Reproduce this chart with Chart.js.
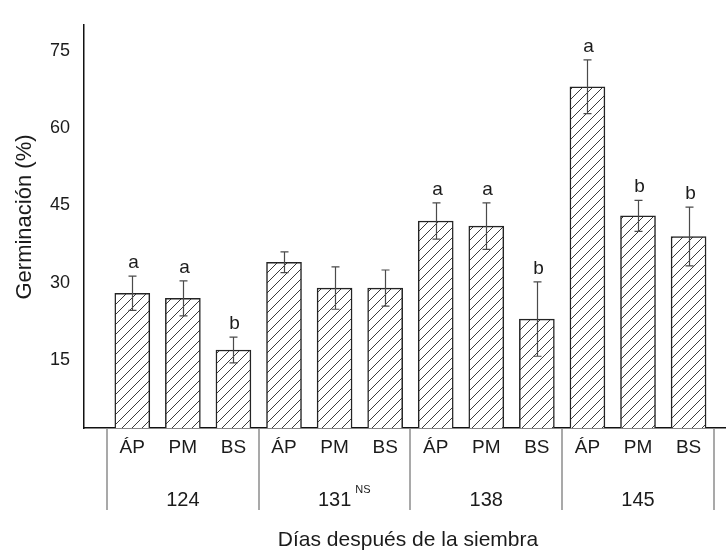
<!DOCTYPE html>
<html>
<head>
<meta charset="utf-8">
<script src="https://cdn.jsdelivr.net/npm/chart.js@4.4.1/dist/chart.umd.min.js"></script>
<style>
  html, body { margin: 0; padding: 0; background: #fff; }
  #wrap { width: 726px; height: 554px; }
</style>
</head>
<body>
<div id="wrap"><canvas id="c" width="726" height="554"></canvas></div>
<script>
// Sowing dates (days after sowing) and the three treatments measured on each
const days = ['124', '131', '138', '145'];
const dayNotes = ['', 'NS', '', ''];
const treatments = ['ÁP', 'PM', 'BS'];

// Mean germination (%) per bar, in order day × treatment
const germination = [28, 27, 17, 34, 29, 29, 42, 41, 23, 68, 43, 39];
// Standard error for each bar
const errors = [3.3, 3.4, 2.5, 2.0, 4.1, 3.5, 3.5, 4.5, 7.2, 5.2, 3.0, 5.7];
// Mean separation letters (empty where not significant)
const letters = ['a', 'a', 'b', '', '', '', 'a', 'a', 'b', 'a', 'b', 'b'];

const yTicks = [15, 30, 45, 60, 75];

const FONT = "'Liberation Sans', Arial, Helvetica, sans-serif";
const INK = '#1b1b1b';

function makeHatch() {
  const s = 10;
  const c = document.createElement('canvas');
  c.width = s; c.height = s;
  const g = c.getContext('2d');
  g.fillStyle = '#ffffff';
  g.fillRect(0, 0, s, s);
  g.strokeStyle = '#3a3a3a';
  g.lineWidth = 1;
  g.beginPath();
  g.moveTo(0, s); g.lineTo(s, 0);
  g.moveTo(-s / 2, s / 2); g.lineTo(s / 2, -s / 2);
  g.moveTo(s / 2, s * 1.5); g.lineTo(s * 1.5, s / 2);
  g.stroke();
  return g.createPattern(c, 'repeat');
}

// Error bars, letters, day groups and axis titles
const annotate = {
  id: 'annotate',
  afterDatasetsDraw(chart) {
    const { ctx, scales: { x, y } } = chart;
    ctx.save();

    ctx.strokeStyle = '#4a4a4a';
    ctx.lineWidth = 1.2;
    ctx.fillStyle = INK;
    ctx.font = `19px ${FONT}`;
    ctx.textAlign = 'center';
    ctx.textBaseline = 'alphabetic';
    germination.forEach((v, i) => {
      const px = Math.round(x.getPixelForValue(i)) + 0.5;
      const top = y.getPixelForValue(v + errors[i]);
      const bot = y.getPixelForValue(v - errors[i]);
      ctx.beginPath();
      ctx.moveTo(px, top); ctx.lineTo(px, bot);
      ctx.moveTo(px - 4, top); ctx.lineTo(px + 4, top);
      ctx.moveTo(px - 4, bot); ctx.lineTo(px + 4, bot);
      ctx.stroke();
      if (letters[i]) ctx.fillText(letters[i], px + 1, top - 8);
    });

    // group separators below the x axis
    const base = y.bottom;
    ctx.strokeStyle = '#8c8c8c';
    ctx.lineWidth = 1.5;
    for (let g = 0; g <= days.length; g++) {
      const px = Math.round(x.getPixelForValue(g * 3 - 0.5));
      ctx.beginPath();
      ctx.moveTo(px, base + 1);
      ctx.lineTo(px, base + 82);
      ctx.stroke();
    }

    // day labels
    ctx.fillStyle = INK;
    days.forEach((d, g) => {
      const cx = x.getPixelForValue(g * 3 + 1);
      ctx.font = `20px ${FONT}`;
      ctx.textAlign = 'center';
      ctx.fillText(d, cx, base + 78);
      if (dayNotes[g]) {
        const w = ctx.measureText(d).width;
        ctx.font = `11px ${FONT}`;
        ctx.textAlign = 'left';
        ctx.fillText(dayNotes[g], cx + w / 2 + 4, base + 65);
      }
    });

    // axis titles
    ctx.font = `21px ${FONT}`;
    ctx.textAlign = 'center';
    ctx.fillText('Días después de la siembra', (x.left + x.right) / 2 + 3, base + 118);

    ctx.save();
    ctx.translate(31, 217);
    ctx.rotate(-Math.PI / 2);
    ctx.font = `22px ${FONT}`;
    ctx.fillText('Germinación (%)', 0, 0);
    ctx.restore();

    ctx.restore();
  }
};

const ctx = document.getElementById('c').getContext('2d');
new Chart(ctx, {
  type: 'bar',
  data: {
    datasets: [{
      data: germination.map((v, i) => ({ x: i, y: v })),
      backgroundColor: makeHatch(),
      borderColor: '#242424',
      borderWidth: 1.5,
      borderSkipped: false,
      barThickness: 35
    }]
  },
  options: {
    responsive: false,
    animation: false,
    devicePixelRatio: 1,
    layout: { padding: { top: 12, right: 0, left: 0, bottom: 0 } },
    plugins: { legend: { display: false }, tooltip: { enabled: false } },
    scales: {
      x: {
        type: 'linear',
        min: -0.955,
        max: 11.74,
        offset: false,
        grid: { display: false, drawTicks: false },
        border: { display: true, color: '#111', width: 1.5 },
        afterBuildTicks: s => { s.ticks = germination.map((_, i) => ({ value: i })); },
        afterFit: s => { s.height = 126; },
        ticks: {
          autoSkip: false,
          maxRotation: 0,
          padding: 8,
          color: INK,
          font: { family: FONT, size: 19 },
          callback: v => treatments[v % treatments.length]
        }
      },
      y: {
        min: 1.9,
        max: 80,
        grid: { display: false, drawTicks: false },
        border: { display: true, color: '#111', width: 1.5 },
        afterBuildTicks: s => { s.ticks = yTicks.map(v => ({ value: v })); },
        afterFit: s => { s.width = 84; },
        ticks: {
          padding: 14,
          color: INK,
          font: { family: FONT, size: 18 }
        }
      }
    }
  },
  plugins: [annotate]
});
</script>
</body>
</html>
